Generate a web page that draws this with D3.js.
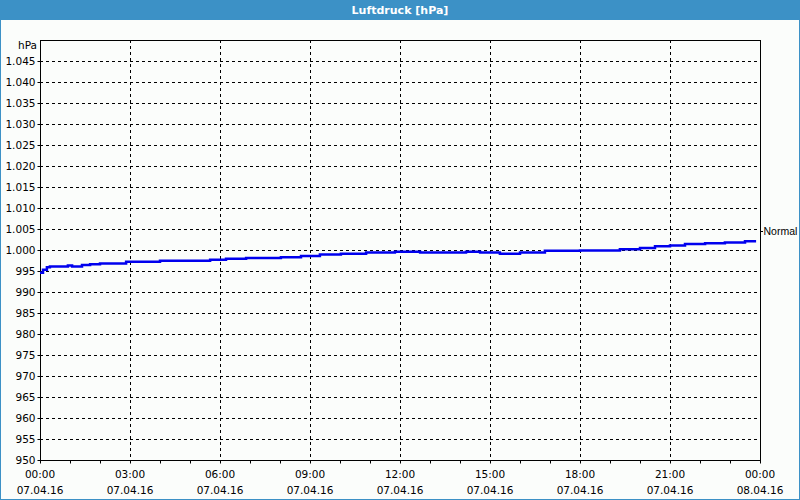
<!DOCTYPE html>
<html><head><meta charset="utf-8">
<script src="https://cdn.jsdelivr.net/npm/d3@7"></script>
<style>
body{margin:0;background:#fff;}
svg text{font-family:"DejaVu Sans",Verdana,sans-serif;font-size:10.5px;fill:#000;}
</style></head>
<body><svg id="c" width="800" height="500"></svg>
<script>
// Data: hours after 07.04.16 00:00 and pressure (hPa)
const hours = [0,0.1,0.23,0.33,0.87,0.93,1.07,1.4,1.67,2.0,2.87,4.0,5.67,6.2,6.87,8.03,8.7,9.33,10.03,10.87,11.83,12.67,14.2,14.67,15.33,16.0,16.83,18.0,19.33,20.0,20.5,21.0,21.5,22.17,22.83,23.5,23.87];
const pressure = [994.6,995.3,995.9,996.1,996.1,996.3,996.1,996.4,996.6,996.8,997.2,997.45,997.7,997.9,998.1,998.3,998.6,998.9,999.1,999.4,999.6,999.4,999.6,999.4,999.1,999.4,999.8,999.9,1000.2,1000.5,1000.9,1001.1,1001.4,1001.6,1001.8,1002.1,1002.1];
const yTicks = [950,955,960,965,970,975,980,985,990,995,1000,1005,1010,1015,1020,1025,1030,1035,1040,1045];
const xTickHours = [0,3,6,9,12,15,18,21,24];
const title = "Luftdruck [hPa]";
const unitLabel = "hPa";
const normalLabel = "Normal";
const normalValue = 1004.5;

const svg = d3.select("#c");
const W = 800, H = 500;
const start = new Date(2016,3,7,0,0);
const toDate = h => new Date(start.getTime() + h*3600000);
const data = hours.map((h,i)=>({t:toDate(h), v:pressure[i]}));

const x = d3.scaleTime().domain([start, toDate(24)]).range([40,760]);
const y = d3.scaleLinear().domain([950,1050]).range([460,40]);

svg.append("rect").attr("width",W).attr("height",H).attr("fill","#fbfdfb");
svg.append("rect").attr("x",0).attr("y",0).attr("width",W).attr("height",20).attr("fill","#3c91c6");
svg.append("rect").attr("x",0.5).attr("y",0.5).attr("width",W-1).attr("height",H-1).attr("fill","none").attr("stroke","#3c91c6");
svg.append("text").attr("x",W/2).attr("y",14).attr("text-anchor","middle")
  .style("fill","#fff").style("font-weight","bold").style("font-size","11px").text(title);

// grid
const g = svg.append("g");
g.selectAll(".hg").data(yTicks.filter(v=>v>950)).enter().append("line")
  .attr("x1",40).attr("x2",760).attr("y1",d=>Math.round(y(d))+0.5).attr("y2",d=>Math.round(y(d))+0.5)
  .attr("stroke","#000").attr("stroke-dasharray","3,3").attr("shape-rendering","crispEdges");
g.selectAll(".vg").data(xTickHours.slice(1,-1)).enter().append("line")
  .attr("y1",40).attr("y2",460).attr("x1",d=>Math.round(x(toDate(d)))+0.5).attr("x2",d=>Math.round(x(toDate(d)))+0.5)
  .attr("stroke","#000").attr("stroke-dasharray","3,3").attr("shape-rendering","crispEdges");

// axes
const fmt = d3.formatLocale({decimal:",",thousands:".",grouping:[3],currency:["","€"]}).format(",d");
const yAxis = d3.axisLeft(y).tickValues(yTicks).tickSize(3).tickPadding(2).tickFormat(fmt);
const ya = svg.append("g").attr("transform","translate(40.5,0)").call(yAxis);
ya.select(".domain").remove();
const xAxis = d3.axisBottom(x).ticks(d3.timeHour.every(1)).tickSize(3).tickFormat("");
const xa = svg.append("g").attr("transform","translate(0,460.5)").call(xAxis);
xa.select(".domain").remove();
[ya,xa].forEach(a=>a.selectAll("text").style("font-family","DejaVu Sans").style("font-size","10.5px"));
ya.selectAll("text").attr("dy","0.35em");

const fTime = d3.timeFormat("%H:%M"), fDate = d3.timeFormat("%d.%m.%y");
const xl = svg.append("g").selectAll("g").data(xTickHours).enter().append("g")
  .attr("transform",d=>`translate(${x(toDate(d))},0)`);
xl.append("text").attr("y",478).attr("text-anchor","middle").text(d=>fTime(toDate(d)));
xl.append("text").attr("y",494).attr("text-anchor","middle").text(d=>fDate(toDate(d)));

svg.append("text").attr("x",37).attr("y",49).attr("text-anchor","end").text(unitLabel);

// frame
svg.append("rect").attr("x",40.5).attr("y",40.5).attr("width",720).attr("height",420)
  .attr("fill","none").attr("stroke","#000").attr("shape-rendering","crispEdges");

// line
svg.append("path").datum(data)
  .attr("d", d3.line().x(d=>x(d.t)).y(d=>y(d.v)).curve(d3.curveStepAfter))
  .attr("fill","none").attr("stroke","#0000ee").attr("stroke-width",2.5);

// normal label
const ny = Math.round(y(normalValue))+0.5;
svg.append("line").attr("x1",760).attr("x2",763).attr("y1",ny).attr("y2",ny).attr("stroke","#000");
svg.append("text").attr("x",763.5).attr("y",ny).attr("dy","0.35em")
  .style("font-family","'Liberation Sans',Arial,sans-serif").style("font-size","10.5px").text(normalLabel);
</script></body></html>
